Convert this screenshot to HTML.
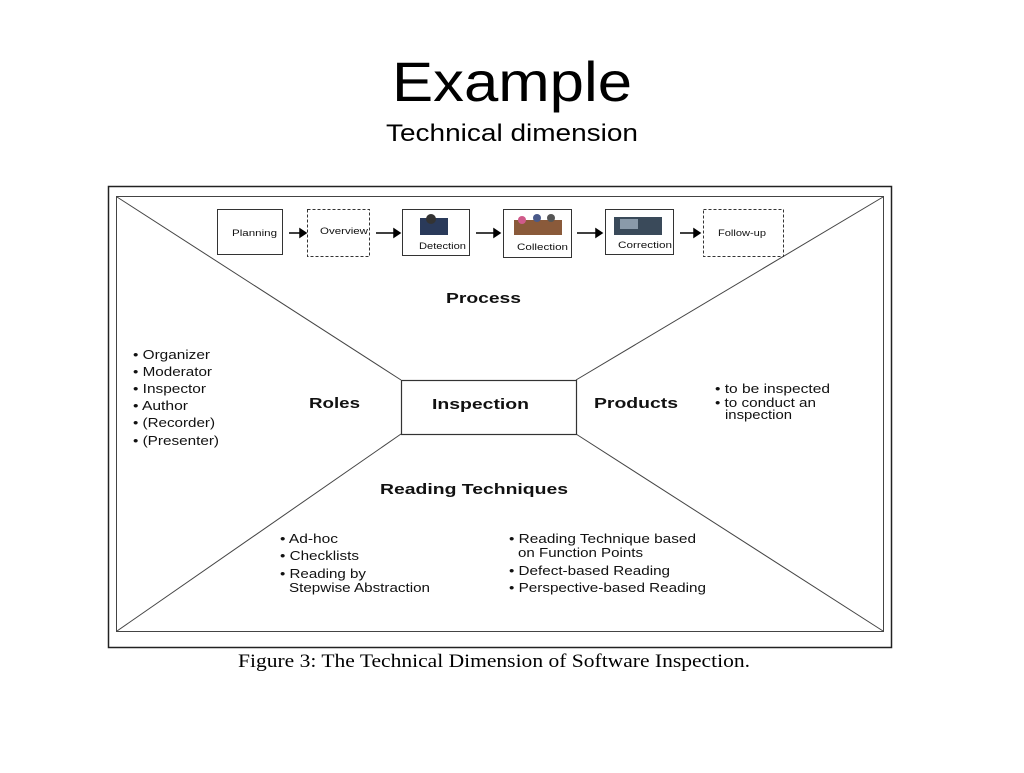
<!DOCTYPE html>
<html><head><style>
body{margin:0;width:1024px;height:768px;background:#fff;overflow:hidden;font-family:"Liberation Sans",sans-serif}
</style></head><body>
<svg width="1024" height="768" xmlns="http://www.w3.org/2000/svg" font-family="Liberation Sans, sans-serif">
<text x="392" y="101" font-size="56" textLength="240" lengthAdjust="spacingAndGlyphs">Example</text>
<text x="386" y="141" font-size="24" textLength="252" lengthAdjust="spacingAndGlyphs">Technical dimension</text>
<rect x="108.5" y="186.5" width="783" height="461" fill="none" stroke="#222" stroke-width="1.5"/>
<rect x="116.5" y="196.5" width="767" height="435" fill="none" stroke="#444" stroke-width="1"/>
<g stroke="#444" stroke-width="1">
<line x1="117" y1="197" x2="401" y2="380"/>
<line x1="883" y1="197" x2="576" y2="380"/>
<line x1="117" y1="631" x2="401" y2="434"/>
<line x1="883" y1="631" x2="576" y2="434"/>
</g>
<rect x="401.5" y="380.5" width="175" height="54" fill="#fff" stroke="#333" stroke-width="1.2"/>
<g fill="#fff" stroke="#333" stroke-width="1">
<rect x="217.5" y="209.5" width="65" height="45"/>
<rect x="307.5" y="209.5" width="62" height="47" stroke-dasharray="3,2"/>
<rect x="402.5" y="209.5" width="67" height="46"/>
<rect x="503.5" y="209.5" width="68" height="48"/>
<rect x="605.5" y="209.5" width="68" height="45"/>
<rect x="703.5" y="209.5" width="80" height="47" stroke-dasharray="3,2"/>
</g>
<g stroke="#000" stroke-width="1.5" fill="#000">
<line x1="289" y1="233" x2="300" y2="233"/><polygon points="300,229 306,233 300,237"/>
<line x1="376" y1="233" x2="394" y2="233"/><polygon points="394,229 400,233 394,237"/>
<line x1="476" y1="233" x2="494" y2="233"/><polygon points="494,229 500,233 494,237"/>
<line x1="577" y1="233" x2="596" y2="233"/><polygon points="596,229 602,233 596,237"/>
<line x1="680" y1="233" x2="694" y2="233"/><polygon points="694,229 700,233 694,237"/>
</g>
<g>
<rect x="420" y="218" width="28" height="17" fill="#2a3a5a"/><circle cx="431" cy="219" r="5" fill="#333"/>
<rect x="514" y="220" width="48" height="15" fill="#8a5a3a"/><circle cx="522" cy="220" r="4" fill="#d05a8a"/><circle cx="537" cy="218" r="4" fill="#4a5a8a"/><circle cx="551" cy="218" r="4" fill="#555"/>
<rect x="614" y="217" width="48" height="18" fill="#3a4a5a"/><rect x="620" y="219" width="18" height="10" fill="#8a9aaa"/>
</g>
<g font-size="9" fill="#111">
<text x="232" y="236" textLength="45" lengthAdjust="spacingAndGlyphs">Planning</text>
<text x="320" y="234" textLength="48" lengthAdjust="spacingAndGlyphs">Overview</text>
<text x="419" y="249" textLength="47" lengthAdjust="spacingAndGlyphs">Detection</text>
<text x="517" y="250" textLength="51" lengthAdjust="spacingAndGlyphs">Collection</text>
<text x="618" y="248" textLength="54" lengthAdjust="spacingAndGlyphs">Correction</text>
<text x="718" y="236" textLength="48" lengthAdjust="spacingAndGlyphs">Follow-up</text>
</g>
<g font-size="15" font-weight="bold" fill="#111">
<text x="446" y="303" textLength="75" lengthAdjust="spacingAndGlyphs">Process</text>
<text x="309" y="408" textLength="51" lengthAdjust="spacingAndGlyphs">Roles</text>
<text x="432" y="409" textLength="97" lengthAdjust="spacingAndGlyphs">Inspection</text>
<text x="594" y="408" textLength="84" lengthAdjust="spacingAndGlyphs">Products</text>
<text x="380" y="494" textLength="188" lengthAdjust="spacingAndGlyphs">Reading Techniques</text>
</g>
<g font-size="12.5" fill="#111">
<text x="133" y="359" textLength="77" lengthAdjust="spacingAndGlyphs">• Organizer</text>
<text x="133" y="376" textLength="79" lengthAdjust="spacingAndGlyphs">• Moderator</text>
<text x="133" y="393" textLength="73" lengthAdjust="spacingAndGlyphs">• Inspector</text>
<text x="133" y="410" textLength="55" lengthAdjust="spacingAndGlyphs">• Author</text>
<text x="133" y="427" textLength="82" lengthAdjust="spacingAndGlyphs">• (Recorder)</text>
<text x="133" y="445" textLength="86" lengthAdjust="spacingAndGlyphs">• (Presenter)</text>
<text x="715" y="393" textLength="115" lengthAdjust="spacingAndGlyphs">• to be inspected</text>
<text x="715" y="407" textLength="101" lengthAdjust="spacingAndGlyphs">• to conduct an</text>
<text x="725" y="419" textLength="67" lengthAdjust="spacingAndGlyphs">inspection</text>
<text x="280" y="543" textLength="58" lengthAdjust="spacingAndGlyphs">• Ad-hoc</text>
<text x="280" y="560" textLength="79" lengthAdjust="spacingAndGlyphs">• Checklists</text>
<text x="280" y="578" textLength="86" lengthAdjust="spacingAndGlyphs">• Reading by</text>
<text x="289" y="592" textLength="141" lengthAdjust="spacingAndGlyphs">Stepwise Abstraction</text>
<text x="509" y="543" textLength="187" lengthAdjust="spacingAndGlyphs">• Reading Technique based</text>
<text x="518" y="557" textLength="125" lengthAdjust="spacingAndGlyphs">on Function Points</text>
<text x="509" y="575" textLength="161" lengthAdjust="spacingAndGlyphs">• Defect-based Reading</text>
<text x="509" y="592" textLength="197" lengthAdjust="spacingAndGlyphs">• Perspective-based Reading</text>
</g>
<text x="238" y="667" font-family="Liberation Serif, serif" font-size="19" textLength="512" lengthAdjust="spacingAndGlyphs">Figure 3: The Technical Dimension of Software Inspection.</text>
</svg>
</body></html>
